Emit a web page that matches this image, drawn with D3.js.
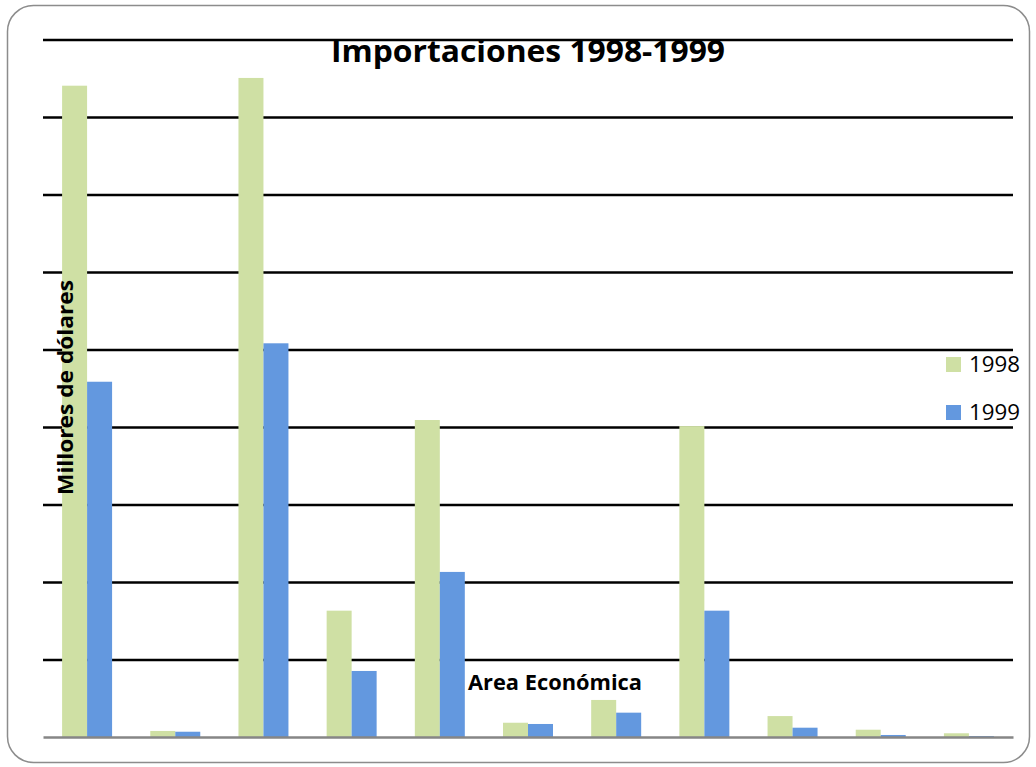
<!DOCTYPE html>
<html>
<head>
<meta charset="utf-8">
<script src="https://d3js.org/d3.v7.min.js"></script>
<style>
  body {
    margin: 0;
    background: #fff;
    font-family: 'Open Sans', sans-serif;
  }
  .grid .domain {
    display: none;
  }
  .grid text {
    display: none;
  }
</style>
</head>
<body>
<svg id="chart" width="1036" height="767"></svg>

<script>
// area names are not printed on the chart, kept only as keys
var categories = ["Área 1", "Área 2", "Área 3", "Área 4", "Área 5", "Área 6",
                  "Área 7", "Área 8", "Área 9", "Área 10", "Área 11"];
var series = ["1998", "1999"];
var values1998 = [4202, 39, 4252, 815, 2045, 92, 239, 2006, 135, 47, 24];
var values1999 = [2292, 34, 2540, 426, 1065, 84, 157, 815, 60, 13, 6];
var gridTicks = [500, 1000, 1500, 2000, 2500, 3000, 3500, 4000, 4500];
var colors = ["#cfe0a4", "#6398df"];

var svg = d3.select("#chart");

// frame round the whole chart
svg.append("rect")
    .attr("x", 7.5)
    .attr("y", 5.5)
    .attr("width", 1022)
    .attr("height", 757)
    .attr("rx", 26)
    .attr("ry", 26)
    .attr("fill", "#fff")
    .attr("stroke", "#8c8c8c")
    .attr("stroke-width", 1.5);

// plot box (window.top is read-only, so no "top" here)
var plotLeft = 43, plotRight = 1013, plotBottom = 737, plotTop = 39.5;

var x0 = d3.scaleBand()
    .domain(categories)
    .range([plotLeft, plotRight])
    .padding(0);

var x1 = d3.scaleBand()
    .domain(series)
    .range([0, x0.bandwidth()])
    .paddingInner(0)
    .paddingOuter(0.764);

var y = d3.scaleLinear()
    .domain([0, 4500])
    .range([plotBottom, plotTop]);

var color = d3.scaleOrdinal().domain(series).range(colors);

// gridlines
var grid = svg.append("g")
    .attr("class", "grid")
    .attr("transform", "translate(" + plotLeft + ",0)")
    .call(d3.axisLeft(y).tickValues(gridTicks).tickSize(-(plotRight - plotLeft)));
grid.selectAll("line")
    .attr("stroke", "#000")
    .attr("stroke-width", 2.6);

var rows = categories.map(function(c, i) {
  return { cat: c, "1998": values1998[i], "1999": values1999[i] };
});

// bars
svg.append("g")
  .selectAll("g")
  .data(rows)
  .enter().append("g")
    .attr("transform", function(d) { return "translate(" + x0(d.cat) + ",0)"; })
  .selectAll("rect")
  .data(function(d) { return series.map(function(s) { return { key: s, value: d[s] }; }); })
  .enter().append("rect")
    .attr("x", function(d) { return x1(d.key); })
    .attr("y", function(d) { return y(d.value); })
    .attr("width", x1.bandwidth())
    .attr("height", function(d) { return y(0) - y(d.value); })
    .attr("fill", function(d) { return color(d.key); });

// baseline
svg.append("g")
    .attr("transform", "translate(0," + plotBottom + ")")
    .call(d3.axisBottom(x0).tickSize(0).tickFormat(""))
    .select(".domain")
    .attr("stroke", "#868686")
    .attr("stroke-width", 2.5);

// title
svg.append("text")
    .attr("x", 528)
    .attr("y", 62)
    .attr("text-anchor", "middle")
    .attr("font-size", 31)
    .attr("font-weight", "bold")
    .attr("textLength", 394)
    .attr("lengthAdjust", "spacingAndGlyphs")
    .text("Importaciones 1998-1999");

// axis titles
svg.append("text")
    .attr("transform", "translate(73,387.5) rotate(-90)")
    .attr("text-anchor", "middle")
    .attr("font-size", 22)
    .attr("font-weight", "bold")
    .attr("textLength", 215)
    .attr("lengthAdjust", "spacingAndGlyphs")
    .text("Millores de dólares");

svg.append("text")
    .attr("x", 468)
    .attr("y", 690)
    .attr("font-size", 22)
    .attr("font-weight", "bold")
    .attr("textLength", 174)
    .attr("lengthAdjust", "spacingAndGlyphs")
    .text("Area Económica");

// legend
var legend = svg.append("g")
  .selectAll("g")
  .data(series)
  .enter().append("g")
    .attr("transform", function(d, i) { return "translate(946," + (357 + i * 48) + ")"; });

legend.append("rect")
    .attr("width", 15)
    .attr("height", 15)
    .attr("fill", color);

legend.append("text")
    .attr("x", 23)
    .attr("y", 15)
    .attr("font-size", 21)
    .attr("textLength", 51)
    .attr("lengthAdjust", "spacingAndGlyphs")
    .text(function(d) { return d; });
</script>
</body>
</html>
